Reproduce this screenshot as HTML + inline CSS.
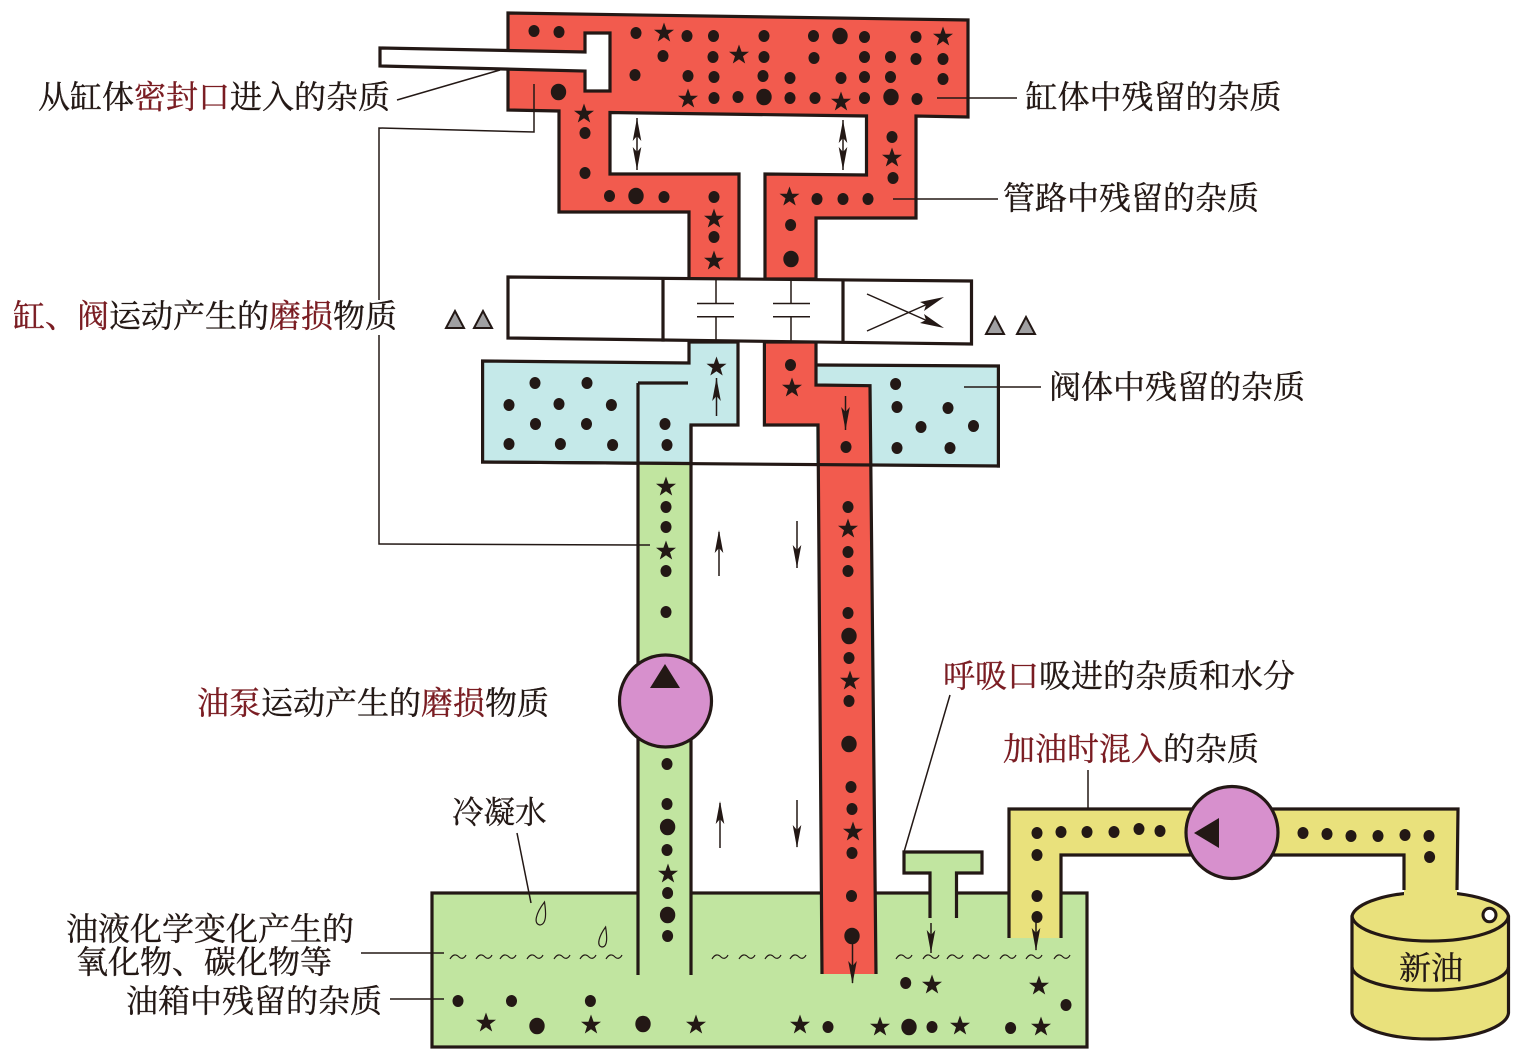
<!DOCTYPE html>
<html><head><meta charset="utf-8">
<style>
html,body{margin:0;padding:0;background:#fff}
svg{display:block}
text{font-family:"Liberation Serif","Noto Serif CJK SC",serif;font-size:32px;fill:#231815;stroke:#231815;stroke-width:.35}
.r{fill:#7a1c22;stroke:#7a1c22}
.o{stroke:#231815;stroke-width:3.2;fill:none;stroke-linejoin:miter;stroke-linecap:square}
.t{stroke:#231815;stroke-width:1.5;fill:none}
.w{stroke:#231815;stroke-width:1.2;fill:none}
</style></head>
<body>
<svg xmlns="http://www.w3.org/2000/svg" width="1516" height="1059" viewBox="0 0 1516 1059">
<defs>
<ellipse id="d" cx="0" cy="0" rx="5.5" ry="6" fill="#231815"/>
<ellipse id="b" cx="0" cy="0" rx="7.7" ry="8.3" fill="#231815"/>
<polygon id="s" fill="#231815" points="0,-10.5 2.6,-3.3 10,-3.3 4,1.3 6.2,8.5 0,4.2 -6.2,8.5 -4,1.3 -10,-3.3 -2.6,-3.3"/>
<path id="w" d="M-8 2 C-5 -3 -2 -3 1 0 C3 2 6 2 8 -2" class="w"/>
<path id="up" d="M0 0 L-4.3 23 L0 18 L4.3 23 Z" fill="#231815"/>
<path id="dn" d="M0 0 L-4.3 -23 L0 -18 L4.3 -23 Z" fill="#231815"/>
</defs>

<!-- tank -->
<rect x="432" y="893" width="655" height="154" class="o" style="fill:#c1e5a0"/>

<!-- red top -->
<path d="M508 13 L968 20 L968 117 L916 116 L916 218 L816 218 L816 279 L765 279 L765 174 L866.5 175 L866.5 116 L610 112.5 L610 174 L739 174 L739 279 L689 279 L689 212 L559 212 L559 111 L508 110 Z" class="o" style="fill:#f25b4e"/>
<!-- rod -->
<path d="M380 48 L585 52 L585 33 L610 33 L610 91 L585 91 L585 71 L380 66 Z" class="o" style="fill:#fff"/>

<!-- cyan -->
<path d="M482.6 361 L689 363 L689 342 L738 342 L738 425 L691 425 L691 463.5 L482.6 462 Z" class="o" style="fill:#c5e9e9"/>
<path d="M816 365 L998.4 366 L998.4 466 L870 464.5 L816 464 Z" fill="#c5e9e9"/>
<path d="M816 365 L998.4 366 L998.4 466" class="o"/>
<!-- green pipe -->
<rect x="638" y="463" width="53" height="512" fill="#c1e5a0"/>
<path d="M638 383 L638 975 M691 425 L691 975 M638 383 L688 383" class="o" style="stroke-linecap:butt"/>
<!-- red return -->
<path d="M822 974 L818 425 L764.4 425 L764.4 342 L816 342 L816 385 L870 385.7 L876 974" class="o" style="fill:#f25b4e;stroke-linecap:butt"/>
<path d="M482.6 462 L998.4 466" class="o"/>

<!-- valve -->
<path d="M508 277 L971.5 281 L971.5 344 L508 338 Z" class="o" style="fill:#fff"/>
<path d="M663 279 L663 340 M843 281 L843 342" class="o"/>
<path d="M716 280 V303.5 M697 303.5 H734 M697 316.7 H734 M716 316.7 V340 M791 280 V303.5 M773 303.5 H810 M773 316.7 H810 M791 316.7 V341" class="t"/>
<path d="M867 294 L930 322 M867 331 L930 303" class="t"/>
<path d="M944 297 L920 302 L926 305 L924 311 Z M944 328 L920 323 L926 320 L924 314 Z" fill="#231815"/>

<!-- triangles -->
<g fill="#a0a0a2" stroke="#231815" stroke-width="2" stroke-linejoin="miter">
<polygon points="455,311 446,328 464,328"/>
<polygon points="483,311 474,328 492,328"/>
<polygon points="995,317 986,334 1004,334"/>
<polygon points="1026,317 1017,334 1035,334"/>
</g>

<!-- vent -->
<path d="M930 918 L930 873 L904 873 L904 852 L982 852 L982 873 L956.5 873 L956.5 918" class="o" style="fill:#c1e5a0;stroke-linecap:butt"/>

<!-- drum -->
<path d="M1352 916 A78.5 26 0 0 1 1508.5 916 L1508.5 1013 A78.3 27 0 0 1 1352 1013 Z" class="o" style="fill:#e9e17c"/>
<path d="M1352 916 A78.3 26 0 0 0 1508.5 916 M1352 967 A78.3 24 0 0 0 1508.5 967" class="o" style="stroke-linecap:butt"/>
<ellipse cx="1489.5" cy="915" rx="6.5" ry="6.8" fill="#fff" stroke="#231815" stroke-width="3"/>

<!-- yellow pipe -->
<path d="M1009 938 L1009 809 L1458 809 L1457 896 L1404 896 L1404 855 L1061 855 L1061 938 Z" fill="#e9e17c"/>
<path d="M1009 938 L1009 809 L1458 809 L1457 890 M1404 890 L1404 855 L1061 855 L1061 938" class="o" style="stroke-linecap:butt"/>

<!-- pumps -->
<circle cx="665.5" cy="701" r="46" fill="#d790cd" stroke="#231815" stroke-width="3.2"/>
<polygon points="650,688 680,688 665,664" fill="#231815"/>
<circle cx="1232" cy="832.5" r="46" fill="#d790cd" stroke="#231815" stroke-width="3.2"/>
<polygon points="1194,833 1219,818 1219,848" fill="#231815"/>

<!-- leaders -->
<path d="M397 100 L500 70 M534 84 L534 132 L379 128 L379 300 M379 335 L379 544 L650 545 M937 98 H1017 M893 199 H998 M964 387 H1041 M361 953 H444 M390 999 H444 M950 695 L904 852 M1088 770 V809 M517 833 L531 903" class="t"/>

<!-- drops -->
<path d="M544.5 902 C546 912 547 924 540 925 C533 924 536 913 544.5 902 Z M605.6 927 C607 936 608 947 602 947 C596 946 599 936 605.6 927 Z" class="w"/>

<!-- waves -->
<g>
<use href="#w" x="458" y="957"/><use href="#w" x="484" y="957"/><use href="#w" x="508" y="957"/><use href="#w" x="535" y="957"/><use href="#w" x="562" y="957"/><use href="#w" x="588" y="957"/><use href="#w" x="614" y="957"/>
<use href="#w" x="720" y="957"/><use href="#w" x="747" y="957"/><use href="#w" x="773" y="957"/><use href="#w" x="798" y="957"/>
<use href="#w" x="904" y="957"/><use href="#w" x="931" y="957"/><use href="#w" x="955" y="957"/><use href="#w" x="981" y="957"/><use href="#w" x="1008" y="957"/><use href="#w" x="1034" y="957"/><use href="#w" x="1062" y="957"/>
</g>

<!-- arrows -->
<path d="M637 118 V170 M843 120 V170 M716.5 378 V416 M845.5 396 V430 M719 532 V576 M797 521 V568 M720 803 V848 M797 800 V847 M852.5 936 V983 M931 923 V953 M1036 922 V950" class="t"/>
<use href="#up" x="637" y="118"/><use href="#dn" x="637" y="170"/>
<use href="#up" x="843" y="120"/><use href="#dn" x="843" y="170"/>
<use href="#up" x="716.5" y="378"/><use href="#dn" x="845.5" y="430"/>
<use href="#up" x="719" y="530"/><use href="#dn" x="797" y="568"/>
<use href="#up" x="720" y="801"/><use href="#dn" x="797" y="848"/>
<use href="#dn" x="852.5" y="984"/><use href="#dn" x="931" y="953"/><use href="#dn" x="1036" y="951"/>

<!-- red top dots -->
<g>
<use href="#d" x="534" y="31"/><use href="#d" x="559" y="32"/><use href="#d" x="636" y="33"/><use href="#s" x="664" y="33"/><use href="#d" x="687" y="36"/><use href="#d" x="713.5" y="36"/><use href="#d" x="764" y="36"/><use href="#d" x="813.5" y="36"/><use href="#b" x="840" y="36"/><use href="#d" x="864.5" y="37"/><use href="#d" x="916" y="37"/><use href="#s" x="943" y="37"/>
<use href="#d" x="663" y="56"/><use href="#d" x="713" y="57"/><use href="#s" x="739" y="55"/><use href="#d" x="764" y="57"/><use href="#d" x="814" y="58"/><use href="#d" x="864.5" y="57"/><use href="#d" x="890.5" y="57"/><use href="#d" x="916" y="59"/><use href="#d" x="943" y="59"/>
<use href="#d" x="635" y="75"/><use href="#d" x="688" y="76"/><use href="#d" x="714" y="77"/><use href="#d" x="763" y="76"/><use href="#d" x="790" y="78"/><use href="#d" x="841" y="78"/><use href="#d" x="864.5" y="77"/><use href="#d" x="890.5" y="77"/><use href="#d" x="943" y="79"/>
<use href="#s" x="688" y="99"/><use href="#d" x="714" y="98"/><use href="#d" x="738" y="97"/><use href="#b" x="764" y="97"/><use href="#d" x="790" y="98"/><use href="#d" x="815" y="98"/><use href="#s" x="841" y="102"/><use href="#d" x="864.5" y="98"/><use href="#b" x="891" y="97"/><use href="#d" x="917" y="99"/>
<use href="#b" x="558.5" y="92"/><use href="#s" x="584" y="114"/><use href="#d" x="585" y="133"/><use href="#d" x="585" y="173"/><use href="#d" x="609.5" y="196"/><use href="#b" x="636" y="196"/><use href="#d" x="664" y="197"/><use href="#d" x="714" y="197"/><use href="#s" x="714" y="219"/><use href="#d" x="714" y="237"/><use href="#s" x="714" y="261"/>
<use href="#d" x="892" y="137"/><use href="#s" x="892" y="158"/><use href="#d" x="893" y="178"/><use href="#s" x="789.5" y="197"/><use href="#d" x="817" y="199"/><use href="#d" x="843" y="199"/><use href="#d" x="868" y="199"/><use href="#d" x="790.6" y="225"/><use href="#b" x="791" y="259"/>
</g>
<!-- cyan dots -->
<g>
<use href="#d" x="535" y="383"/><use href="#d" x="587" y="383"/><use href="#d" x="509" y="405"/><use href="#d" x="559" y="404"/><use href="#d" x="611.4" y="405"/><use href="#d" x="535.5" y="424"/><use href="#d" x="586.5" y="424"/><use href="#d" x="509" y="444"/><use href="#d" x="560.4" y="444"/><use href="#d" x="612.6" y="445"/><use href="#d" x="665" y="424"/><use href="#d" x="667" y="445"/><use href="#s" x="716.5" y="367"/>
<use href="#d" x="790.5" y="365"/><use href="#s" x="792" y="388"/><use href="#d" x="846" y="447"/>
<use href="#d" x="895.6" y="384"/><use href="#d" x="897" y="407"/><use href="#d" x="948" y="408"/><use href="#d" x="921" y="427"/><use href="#d" x="973.5" y="426"/><use href="#d" x="897" y="448"/><use href="#d" x="950" y="448"/>
</g>
<!-- pipes dots -->
<g>
<use href="#s" x="666" y="487"/><use href="#d" x="666" y="507"/><use href="#d" x="666" y="527"/><use href="#s" x="666" y="551"/><use href="#d" x="666" y="571"/><use href="#d" x="666" y="612"/><use href="#d" x="667" y="764"/><use href="#d" x="667" y="804"/><use href="#b" x="667.6" y="827"/><use href="#d" x="667" y="850"/><use href="#s" x="668" y="874"/><use href="#d" x="667.6" y="893"/><use href="#b" x="667.6" y="915"/><use href="#d" x="667.6" y="936"/>
<use href="#d" x="848" y="507"/><use href="#s" x="848" y="529"/><use href="#d" x="848" y="552"/><use href="#d" x="848" y="571"/><use href="#d" x="848" y="613"/><use href="#b" x="849" y="636"/><use href="#d" x="849" y="658"/><use href="#s" x="850" y="681"/><use href="#d" x="849" y="701"/><use href="#b" x="849" y="744"/><use href="#d" x="851" y="787"/><use href="#d" x="852" y="809"/><use href="#s" x="853" y="832"/><use href="#d" x="852" y="853"/><use href="#d" x="851.5" y="896"/><use href="#b" x="852" y="936"/>
</g>
<!-- tank dots -->
<g>
<use href="#d" x="458" y="1001"/><use href="#d" x="511.5" y="1001"/><use href="#d" x="590.4" y="1001"/><use href="#s" x="486" y="1023"/><use href="#b" x="537" y="1026"/><use href="#s" x="591" y="1025"/><use href="#b" x="643" y="1024"/><use href="#s" x="696" y="1025"/><use href="#s" x="800" y="1025"/><use href="#d" x="828" y="1027"/><use href="#s" x="880" y="1027"/><use href="#b" x="909" y="1027"/><use href="#d" x="932" y="1027"/><use href="#s" x="960" y="1026"/><use href="#d" x="1010.6" y="1028"/><use href="#s" x="1041" y="1027"/><use href="#d" x="905.7" y="983"/><use href="#s" x="932" y="985"/><use href="#s" x="1039" y="986"/><use href="#d" x="1066" y="1005"/>
</g>
<!-- yellow dots -->
<g>
<use href="#d" x="1037" y="833"/><use href="#d" x="1061" y="832"/><use href="#d" x="1087" y="832"/><use href="#d" x="1114" y="832"/><use href="#d" x="1139" y="829"/><use href="#d" x="1160" y="831"/><use href="#d" x="1303" y="833"/><use href="#d" x="1327" y="834"/><use href="#d" x="1351" y="836"/><use href="#d" x="1378" y="836"/><use href="#d" x="1405" y="835"/><use href="#d" x="1429" y="836"/><use href="#d" x="1429.6" y="857"/><use href="#d" x="1037" y="855"/><use href="#d" x="1037" y="896"/><use href="#d" x="1037" y="917"/>
</g>

<!-- labels -->
<text x="38" y="108">从缸体<tspan class="r">密封口</tspan>进入的杂质</text>
<text x="1025.5" y="108">缸体中残留的杂质</text>
<text x="1003" y="209">管路中残留的杂质</text>
<text x="13" y="327"><tspan class="r">缸、阀</tspan>运动产生的<tspan class="r">磨损</tspan>物质</text>
<text x="1049" y="398">阀体中残留的杂质</text>
<text x="197" y="714"><tspan class="r">油泵</tspan>运动产生的<tspan class="r">磨损</tspan>物质</text>
<text x="943" y="687"><tspan class="r">呼吸口</tspan>吸进的杂质和水分</text>
<text x="1003" y="760"><tspan class="r">加油时混入</tspan>的杂质</text>
<text x="452" y="823" style="font-size:31.5px">冷凝水</text>
<text x="66" y="940">油液化学变化产生的</text>
<text x="76" y="973">氧化物、碳化物等</text>
<text x="126" y="1012">油箱中残留的杂质</text>
<text x="1399" y="979">新油</text>
</svg>
</body></html>
